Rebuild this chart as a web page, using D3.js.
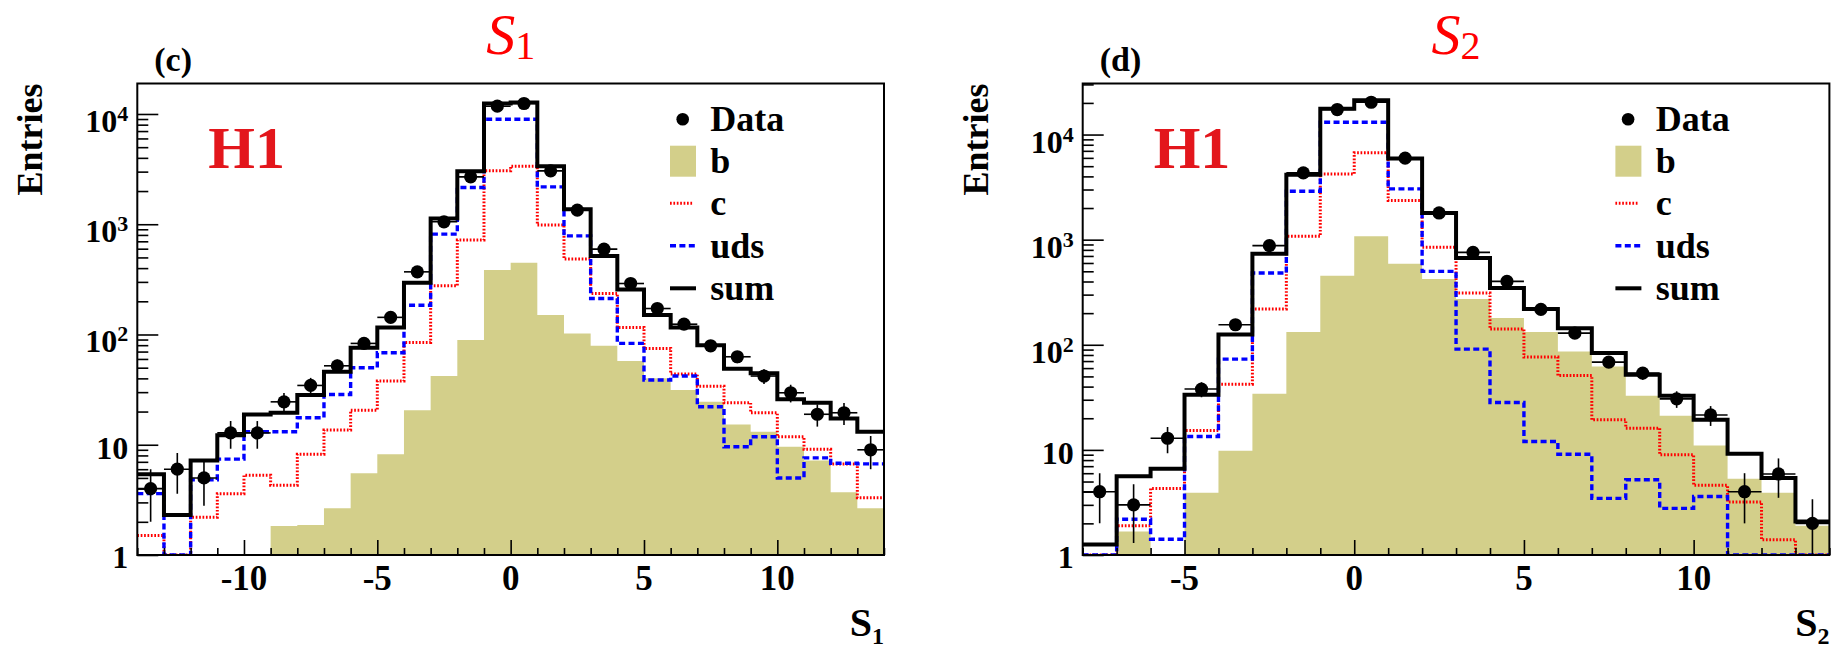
<!DOCTYPE html>
<html>
<head>
<meta charset="utf-8">
<script src="https://cdn.jsdelivr.net/npm/d3@7"></script>
<style>
  html, body { margin: 0; padding: 0; background: #fff; }
  svg { display: block; }
  text { font-family: "Liberation Serif", "Times New Roman", Tinos, serif; }
</style>
</head>
<body>
<svg id="chart" width="1841" height="651" font-family="Liberation Serif, Times New Roman, serif"></svg>
<script>
// ---------- S1 distribution: lower bin edges (bin width 1) ----------
const s1Bins = [-14,-13,-12,-11,-10,-9,-8,-7,-6,-5,-4,-3,-2,-1,0,1,2,3,4,5,6,7,8,9,10,11,12,13];
const s1Data = [4.0,6.0,5.0,12.8,12.8,24.5,34.5,52,83,143,370,1052,2690,11770,12450,3050,1343,595,290,172,124,79,62.8,42,29.6,18.9,19.5,9.0];
const s1DataErr = [2.0,2.4,2.2,3.6,3.6,4.9,5.9,7.2,9.1,12,19,32,52,108,112,55,37,24,17,13,11,8.9,7.9,6.5,5.4,4.3,4.4,3.0];
const s1Sum = [5.4,2.3,7.2,12.2,18.8,19.5,28.2,45.9,75.8,116,294,1128,3030,12450,12700,3364,1370,514,256,150,116,80,48.9,44.4,25.8,24.0,17.3,13.1];
const s1Uds = [3.6,1.0,4.8,7.4,13.1,13.1,17.6,28.6,49.9,68.2,184,813,2155,8970,8970,2183,785,212,83,38.6,42,22.1,9.6,11.8,5.0,7.6,6.8,6.7];
const s1C = [1.5,1.0,2.2,3.6,5.3,4.3,8.2,13.6,20.6,37.8,84.8,277,718,3050,3364,982,483,236,116,74.8,43.8,34,24,19.5,11.8,9.1,6.7,3.3];
const s1B = [0,0,0,0,0,1.83,1.87,2.65,5.5,8.2,20.6,42,89,384,447,150,102,79,57.4,40,31.3,24.5,15.3,13.1,9.6,7.2,3.7,2.65];
const s1XTicks = [-10,-5,0,5,10];

// ---------- S2 distribution ----------
const s2Bins = [-8,-7,-6,-5,-4,-3,-2,-1,0,1,2,3,4,5,6,7,8,9,10,11,12,13];
const s2Data = [4.0,3.0,12.9,37.9,155,877,4318,17300,20300,5960,1795,757,401,217,129,68.4,53.8,30.6,21.5,4.0,5.9,2.0];
const s2DataErr = [2.0,1.7,3.6,6.2,12,30,66,132,142,77,42,28,20,15,11,8.3,7.3,5.5,4.6,2.0,2.4,1.4];
const s2Sum = [1.26,5.6,6.6,33.4,125,736,4157,17570,21220,5907,1795,670,347,219,144,83.4,52,32.7,19.3,9.2,5.4,2.08];
const s2Uds = [1.0,2.19,1.41,13.4,73,482,2884,13100,13100,3040,499,91,28.2,12,9.1,3.46,5.2,2.78,3.6,1.0,1.0,1.0];
const s2C = [1.0,1.9,4.3,15.3,42.2,219,1076,4225,6700,2352,845,311,141,76.4,51,19.3,16.1,9.0,4.6,3.2,1.4,1.0];
const s2B = [0,1.67,0,3.9,9.8,34.2,132,454,1076,591,423,272,180,132,86.3,62.2,32.7,21.1,11,5.3,3.9,1.9];
const s2XTicks = [-5,0,5,10];

// shared log axis decades and legend entries
const yDecades = [0,1,2,3,4];
const legendLabels = ["Data","b","c","uds","sum"];

const panels = [
  { tag: "c", sub: "1", bins: s1Bins, data: s1Data, err: s1DataErr, sum: s1Sum, uds: s1Uds, c: s1C, b: s1B,
    xTicks: s1XTicks, xDomain: [-14, 14], yMax: 1.89e4, left: 137.3, right: 884 },
  { tag: "d", sub: "2", bins: s2Bins, data: s2Data, err: s2DataErr, sum: s2Sum, uds: s2Uds, c: s2C, b: s2B,
    xTicks: s2XTicks, xDomain: [-8, 14], yMax: 3.06e4, left: 1082.7, right: 1829.4 }
];

const TOP = 83.5, BOTTOM = 555;
const TAN = "#d3cf8a", RED = "#ff0000", BLUE = "#0000ff", H1RED = "#e3161c";
const BIN_W = 1;

const svg = d3.select("#chart");
const defs = svg.append("defs");

function drawPanel(p) {
  const g = svg.append("g");
  const x = d3.scaleLinear().domain(p.xDomain).range([p.left, p.right]);
  const y = d3.scaleLog().domain([1, p.yMax]).range([BOTTOM, TOP]).clamp(true);
  const yv = v => y(Math.max(v, 1));

  defs.append("clipPath").attr("id", "clip-" + p.tag)
    .append("rect").attr("x", p.left).attr("y", TOP)
    .attr("width", p.right - p.left).attr("height", BOTTOM - TOP);
  const plot = g.append("g").attr("clip-path", `url(#clip-${p.tag})`);

  // step outline points: each bin's lower edge plus the final upper edge
  const steps = vals => p.bins.map((lo, i) => [lo, vals[i]])
    .concat([[p.bins[p.bins.length - 1] + BIN_W, vals[vals.length - 1]]]);
  const line = d3.line().x(d => x(d[0])).y(d => yv(d[1])).curve(d3.curveStepAfter);
  const area = d3.area().x(d => x(d[0])).y0(BOTTOM).y1(d => yv(d[1])).curve(d3.curveStepAfter);

  // b contribution (filled)
  plot.append("path").attr("d", area(steps(p.b))).attr("fill", TAN);
  // c contribution (red dotted)
  plot.append("path").attr("d", line(steps(p.c))).attr("fill", "none")
    .attr("stroke", RED).attr("stroke-width", 3).attr("stroke-dasharray", "1.7,1.7");
  // uds contribution (blue dashed)
  plot.append("path").attr("d", line(steps(p.uds))).attr("fill", "none")
    .attr("stroke", BLUE).attr("stroke-width", 3.4).attr("stroke-dasharray", "6,3.4");
  // sum of all contributions
  plot.append("path").attr("d", line(steps(p.sum))).attr("fill", "none")
    .attr("stroke", "#000").attr("stroke-width", 4);

  // data points with error bars
  const pts = plot.append("g");
  p.bins.forEach((lo, i) => {
    const v = p.data[i], e = p.err[i];
    const cx = x(lo + BIN_W / 2), cy = yv(v);
    pts.append("line").attr("x1", x(lo)).attr("x2", x(lo + BIN_W)).attr("y1", cy).attr("y2", cy)
      .attr("stroke", "#000").attr("stroke-width", 1.6);
    pts.append("line").attr("x1", cx).attr("x2", cx).attr("y1", yv(v - e)).attr("y2", yv(v + e))
      .attr("stroke", "#000").attr("stroke-width", 1.6);
    pts.append("circle").attr("cx", cx).attr("cy", cy).attr("r", 6.6).attr("fill", "#000");
  });

  // x axis ticks (inward), major and minor
  const minorX = p.bins.concat([p.bins[p.bins.length - 1] + BIN_W]).filter(v => !p.xTicks.includes(v));
  g.append("g").attr("transform", `translate(0,${BOTTOM})`)
    .call(d3.axisBottom(x).tickValues(minorX).tickSize(-7).tickFormat(""))
    .call(s => s.select(".domain").remove())
    .call(s => s.selectAll("line").attr("stroke-width", 1.6));
  g.append("g").attr("transform", `translate(0,${BOTTOM})`)
    .call(d3.axisBottom(x).tickValues(p.xTicks).tickSize(-15).tickFormat(""))
    .call(s => s.select(".domain").remove())
    .call(s => s.selectAll("line").attr("stroke-width", 1.6));

  // y axis ticks (inward), decades and minor
  const majorY = yDecades.map(n => Math.pow(10, n));
  const minorY = [];
  yDecades.forEach(n => { for (let k = 2; k <= 9; k++) { const v = k * Math.pow(10, n); if (v < p.yMax) minorY.push(v); } });
  g.append("g").attr("transform", `translate(${p.left},0)`)
    .call(d3.axisLeft(y).tickValues(minorY).tickSize(-11).tickFormat(""))
    .call(s => s.select(".domain").remove())
    .call(s => s.selectAll("line").attr("stroke-width", 1.6));
  g.append("g").attr("transform", `translate(${p.left},0)`)
    .call(d3.axisLeft(y).tickValues(majorY).tickSize(-21).tickFormat(""))
    .call(s => s.select(".domain").remove())
    .call(s => s.selectAll("line").attr("stroke-width", 1.6));

  // frame
  g.append("rect").attr("x", p.left).attr("y", TOP)
    .attr("width", p.right - p.left).attr("height", BOTTOM - TOP)
    .attr("fill", "none").attr("stroke", "#000").attr("stroke-width", 2);

  // x tick labels
  p.xTicks.forEach(v => {
    g.append("text").attr("x", x(v)).attr("y", 590).attr("text-anchor", "middle")
      .attr("font-size", 35).attr("font-weight", "bold").text(v);
  });

  // y tick labels: 1, 10, 10^n
  yDecades.forEach(n => {
    const ty = y(Math.pow(10, n));
    const t = g.append("text").attr("x", p.left - 9).attr("text-anchor", "end")
      .attr("font-size", 32).attr("font-weight", "bold");
    if (n === 0) { t.attr("y", ty + 13).text("1"); }
    else if (n === 1) { t.attr("y", ty + 14).text("10"); }
    else {
      t.attr("y", ty + 18);
      t.append("tspan").text("10");
      t.append("tspan").attr("dy", -11).attr("font-size", 22).text(n);
    }
  });

  // axis titles
  const xt = g.append("text").attr("x", p.right).attr("y", 636).attr("text-anchor", "end")
    .attr("font-weight", "bold").attr("font-size", 40);
  xt.append("tspan").text("S");
  xt.append("tspan").attr("dy", 8).attr("font-size", 24).text(p.sub);

  g.append("text").attr("transform", `translate(${p.left - 95},${TOP}) rotate(-90)`)
    .attr("text-anchor", "end").attr("font-size", 36).attr("font-weight", "bold").text("Entries");

  // panel letter and title
  g.append("text").attr("x", p.left + 17).attr("y", 71).attr("font-size", 34)
    .attr("font-weight", "bold").text(`(${p.tag})`);
  const title = g.append("text").attr("x", (p.left + p.right) / 2).attr("y", 54)
    .attr("text-anchor", "middle").attr("fill", RED);
  title.append("tspan").attr("font-style", "italic").attr("font-size", 58).text("S");
  title.append("tspan").attr("dy", 5).attr("font-size", 40).text(p.sub);

  // experiment label
  g.append("text").attr("x", p.left + 71).attr("y", 168).attr("font-size", 60)
    .attr("font-weight", "bold").attr("fill", H1RED).text("H1");

  // legend
  const lx = p.left + 545.4, tx = p.left + 573, rowY = [119.3, 161.2, 203.3, 245.7, 288.3];
  const lg = g.append("g");
  lg.append("circle").attr("cx", lx).attr("cy", rowY[0]).attr("r", 6.3).attr("fill", "#000");
  lg.append("rect").attr("x", lx - 12.7).attr("y", rowY[1] - 15.5).attr("width", 26).attr("height", 31).attr("fill", TAN);
  lg.append("line").attr("x1", lx - 12.7).attr("x2", lx + 11).attr("y1", rowY[2]).attr("y2", rowY[2])
    .attr("stroke", RED).attr("stroke-width", 3).attr("stroke-dasharray", "1.7,1.7");
  lg.append("line").attr("x1", lx - 12.7).attr("x2", lx + 13.3).attr("y1", rowY[3]).attr("y2", rowY[3])
    .attr("stroke", BLUE).attr("stroke-width", 3.4).attr("stroke-dasharray", "6,3.4");
  lg.append("line").attr("x1", lx - 12.7).attr("x2", lx + 13.3).attr("y1", rowY[4]).attr("y2", rowY[4])
    .attr("stroke", "#000").attr("stroke-width", 4);
  legendLabels.forEach((lab, i) => {
    lg.append("text").attr("x", tx).attr("y", rowY[i] + 12).attr("font-size", 36)
      .attr("font-weight", "bold").text(lab);
  });
}

panels.forEach(drawPanel);
</script>
</body>
</html>
